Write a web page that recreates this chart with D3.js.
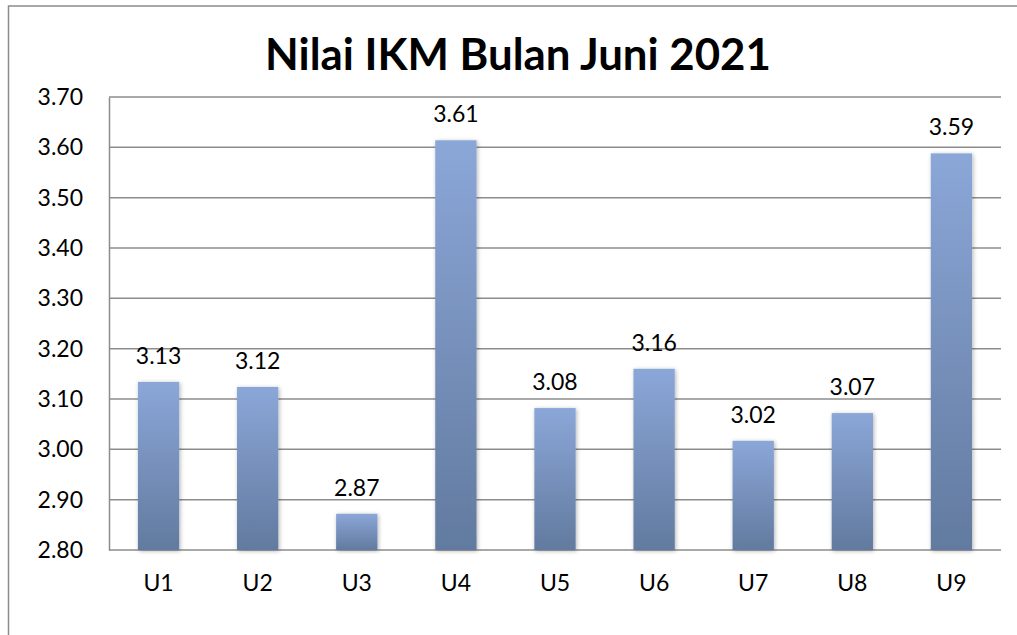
<!DOCTYPE html>
<head>
  <meta charset="utf-8">
  <script src="https://d3js.org/d3.v7.min.js"></script>
  <style>
    body { margin: 0; background: #fff; }
    svg { display: block; }
    text { font-family: Lato, "Open Sans", sans-serif; fill: #000; }
  </style>
</head>
<body>
<script type="text/javascript">
  // data
  var categories = ["U1", "U2", "U3", "U4", "U5", "U6", "U7", "U8", "U9"];
  var values = [3.134, 3.124, 2.872, 3.614, 3.082, 3.16, 3.017, 3.072, 3.588];
  var tickValues = [2.80, 2.90, 3.00, 3.10, 3.20, 3.30, 3.40, 3.50, 3.60, 3.70];
  var title = "Nilai IKM Bulan Juni 2021";

  var width = 1017, height = 635;
  var margin = { top: 97, left: 109, bottom: 85, right: 16 };

  var svg = d3.select("body").append("svg")
    .attr("width", width)
    .attr("height", height);

  // gradient + shadow for bars
  var defs = svg.append("defs");
  var grad = defs.append("linearGradient")
    .attr("id", "barGrad")
    .attr("x1", 0).attr("y1", 0).attr("x2", 0).attr("y2", 1);
  grad.append("stop").attr("offset", "0%").attr("stop-color", "#8ba7d8");
  grad.append("stop").attr("offset", "100%").attr("stop-color", "#627a9f");

  var shadow = defs.append("filter").attr("id", "shadow")
    .attr("x", "-30%").attr("y", "-10%").attr("width", "160%").attr("height", "120%");
  shadow.append("feDropShadow")
    .attr("dx", 1).attr("dy", 1).attr("stdDeviation", 2)
    .attr("flood-color", "#000").attr("flood-opacity", 0.3);

  // outer chart frame (right and bottom run off the picture)
  svg.append("rect")
    .attr("x", 8.5).attr("y", 6)
    .attr("width", 1020).attr("height", 640)
    .attr("fill", "none")
    .attr("stroke", "#8c8c8c")
    .attr("stroke-width", 1.5);

  var x = d3.scaleBand()
    .domain(categories)
    .range([margin.left, width - margin.right])
    .paddingInner(1.4 / 2.4)
    .paddingOuter(0.7 / 2.4);

  var y = d3.scaleLinear()
    .domain([2.8, 3.7])
    .range([height - margin.bottom, margin.top]);

  // gridlines
  svg.append("g")
    .selectAll("line")
    .data(tickValues)
    .join("line")
    .attr("x1", margin.left)
    .attr("x2", width - margin.right)
    .attr("y1", d => y(d))
    .attr("y2", d => y(d))
    .attr("stroke", "#8c8c8c")
    .attr("stroke-width", 1.5);

  // y axis
  var yAxis = d3.axisLeft(y)
    .tickValues(tickValues)
    .tickFormat(d3.format(".2f"))
    .tickSize(0)
    .tickPadding(26);

  var gy = svg.append("g")
    .attr("transform", "translate(" + margin.left + ",0)")
    .call(yAxis);
  gy.select(".domain")
    .attr("stroke", "#8c8c8c")
    .attr("stroke-width", 1.5);
  gy.selectAll("text")
    .style("font-size", "23px")
    .attr("fill", "#000");

  // x axis labels
  var xAxis = d3.axisBottom(x).tickSize(0).tickPadding(25);
  var gx = svg.append("g")
    .attr("transform", "translate(0," + (height - margin.bottom) + ")")
    .call(xAxis);
  gx.select(".domain").remove();
  gx.selectAll("text")
    .style("font-size", "23px")
    .attr("fill", "#000");

  // bars
  svg.append("g")
    .selectAll("rect")
    .data(values)
    .join("rect")
    .attr("x", (d, i) => x(categories[i]))
    .attr("y", d => y(d))
    .attr("width", x.bandwidth())
    .attr("height", d => y(2.8) - y(d))
    .attr("fill", "url(#barGrad)")
    .attr("filter", "url(#shadow)");

  // value labels
  svg.append("g")
    .selectAll("text")
    .data(values)
    .join("text")
    .attr("x", (d, i) => x(categories[i]) + x.bandwidth() / 2)
    .attr("y", d => y(d) - 18)
    .attr("text-anchor", "middle")
    .style("font-size", "23px")
    .text(d => d.toFixed(2));

  // title, sized to the picture's width
  var t = svg.append("text")
    .attr("x", 518)
    .attr("y", 70)
    .attr("text-anchor", "middle")
    .style("font-weight", "bold")
    .style("font-size", "36px")
    .text(title);
  var w = t.node().getComputedTextLength();
  t.style("font-size", (36 * 506 / w) + "px");
</script>
</body>
